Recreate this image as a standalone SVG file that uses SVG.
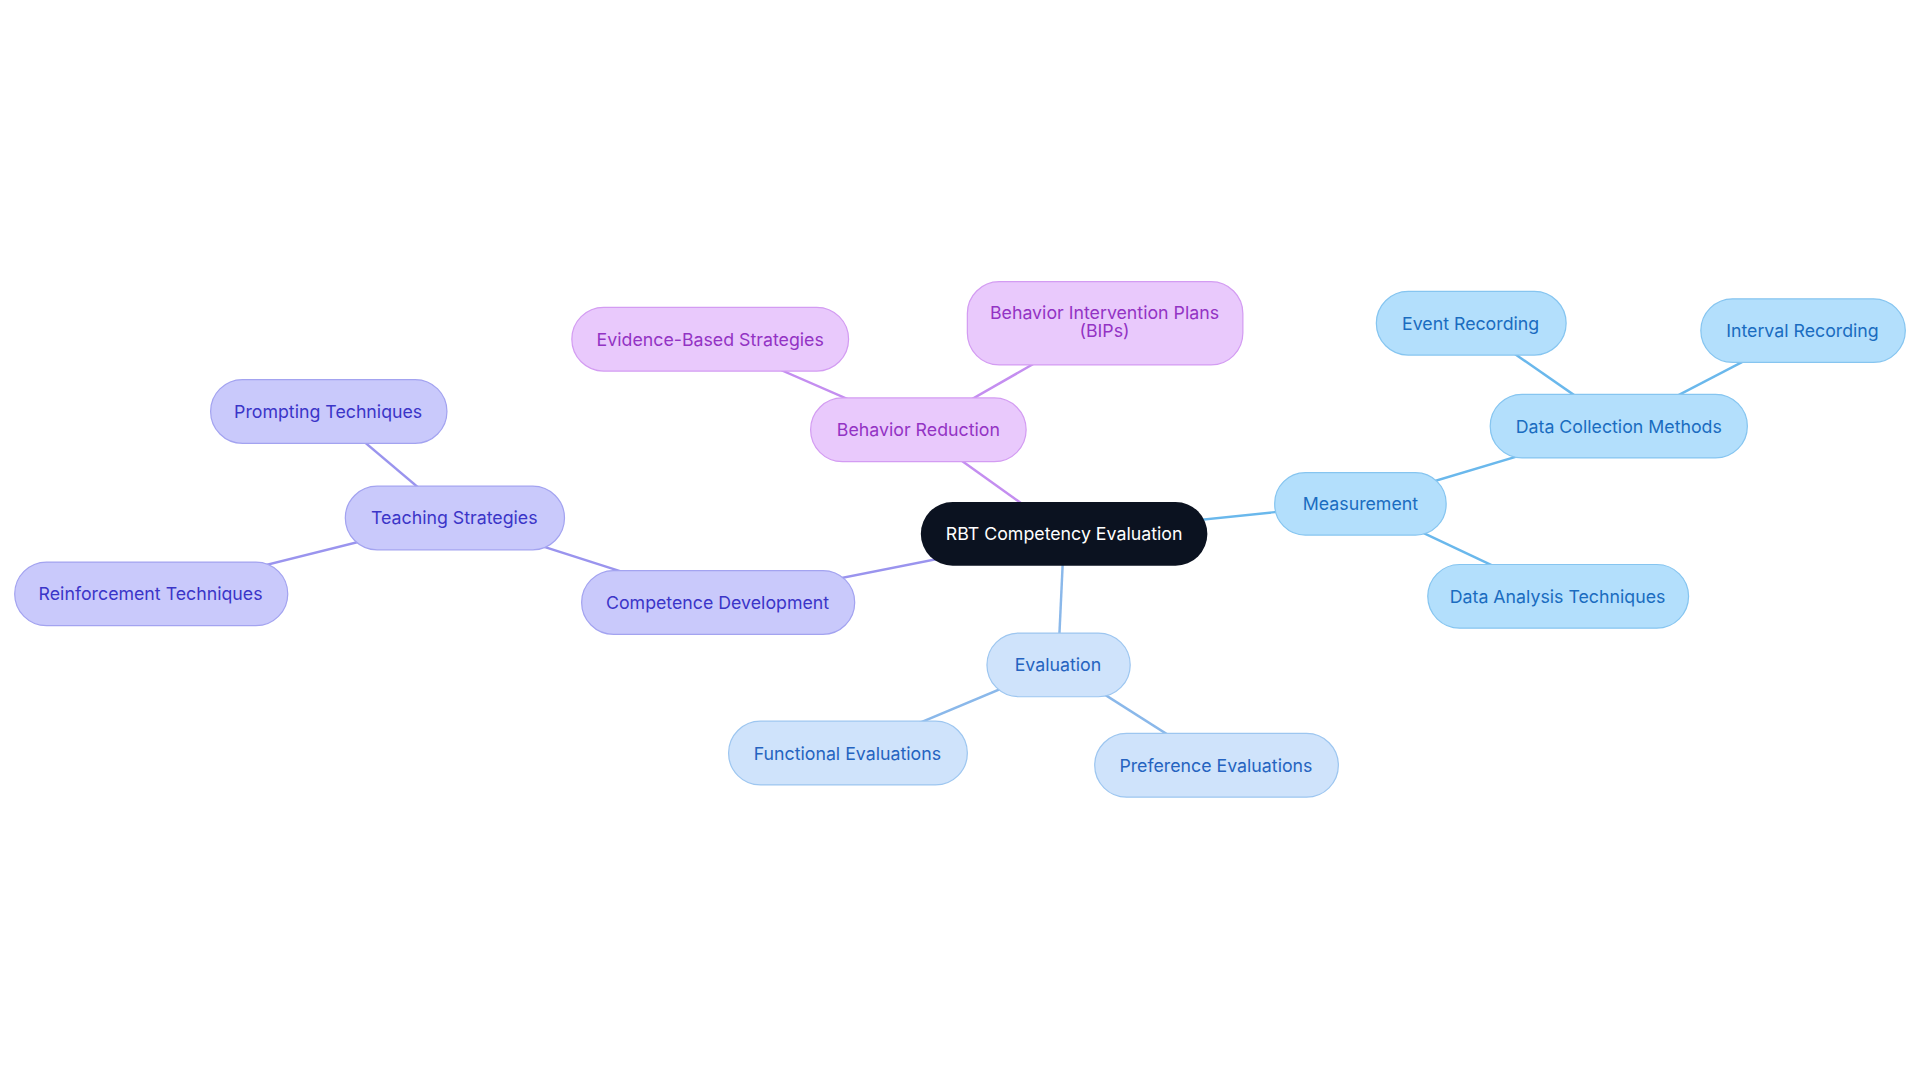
<svg xmlns="http://www.w3.org/2000/svg" width="1920" height="1083" viewBox="0 0 1920 1083">
<style>
text{font-family:Inter,"Noto Sans",sans-serif;font-size:14.5px;text-anchor:middle;dominant-baseline:central}
.b rect{fill:#b3dffc;stroke:#86c5f0}.b text{fill:#1a6cc0}
.e rect{fill:#cfe3fb;stroke:#9dc6f0}.e text{fill:#2563c0}
.c rect{fill:#c9c9fb;stroke:#a3a3f0}.c text{fill:#3b35c8}
.r rect{fill:#e9c9fc;stroke:#d39cf2}.r text{fill:#9333c4}
rect{stroke-width:1}
#edges line{stroke-width:2}
</style>
<rect width="1920" height="1083" fill="#fff"/>
<g transform="scale(1.2245)">
<g id="edges">
<line x1="869" y1="436" x2="1111" y2="411" stroke="#6ab8ec"/>
<line x1="1111" y1="411" x2="1322" y2="348" stroke="#6ab8ec"/>
<line x1="1322" y1="348" x2="1201" y2="264" stroke="#6ab8ec"/>
<line x1="1322" y1="348" x2="1472" y2="270" stroke="#6ab8ec"/>
<line x1="1111" y1="411" x2="1272" y2="487" stroke="#6ab8ec"/>
<line x1="869" y1="436" x2="864" y2="543" stroke="#8ab8ea"/>
<line x1="864" y1="543" x2="692" y2="615" stroke="#8ab8ea"/>
<line x1="864" y1="543" x2="993" y2="625" stroke="#8ab8ea"/>
<line x1="869" y1="436" x2="586" y2="492" stroke="#9a94ee"/>
<line x1="586" y1="492" x2="371" y2="423" stroke="#9a94ee"/>
<line x1="371" y1="423" x2="268" y2="336" stroke="#9a94ee"/>
<line x1="371" y1="423" x2="123" y2="485" stroke="#9a94ee"/>
<line x1="869" y1="436" x2="750" y2="351" stroke="#c48ef0"/>
<line x1="750" y1="351" x2="580" y2="277" stroke="#c48ef0"/>
<line x1="750" y1="351" x2="902" y2="264" stroke="#c48ef0"/>
</g>
<g id="root"><rect x="752" y="410" width="234" height="52" rx="26" fill="#0b1220"/><text x="869" y="436" fill="#fff">RBT Competency Evaluation</text></g>
<g id="measurement" class="b"><rect x="1041" y="386" width="140" height="51" rx="25"/><text x="1111" y="411">Measurement</text></g>
<g id="dcm" class="b"><rect x="1217" y="322" width="210" height="52" rx="26"/><text x="1322" y="348">Data Collection Methods</text></g>
<g id="event" class="b"><rect x="1124" y="238" width="155" height="52" rx="26"/><text x="1201" y="264">Event Recording</text></g>
<g id="interval" class="b"><rect x="1389" y="244" width="167" height="52" rx="26"/><text x="1472" y="270">Interval Recording</text></g>
<g id="dat" class="b"><rect x="1166" y="461" width="213" height="52" rx="26"/><text x="1272" y="487">Data Analysis Techniques</text></g>
<g id="evaluation" class="e"><rect x="806" y="517" width="117" height="52" rx="26"/><text x="864" y="543">Evaluation</text></g>
<g id="functional" class="e"><rect x="595" y="589" width="195" height="52" rx="26"/><text x="692" y="615">Functional Evaluations</text></g>
<g id="preference" class="e"><rect x="894" y="599" width="199" height="52" rx="26"/><text x="993" y="625">Preference Evaluations</text></g>
<g id="competence" class="c"><rect x="475" y="466" width="223" height="52" rx="26"/><text x="586" y="492">Competence Development</text></g>
<g id="teaching" class="c"><rect x="282" y="397" width="179" height="52" rx="26"/><text x="371" y="423">Teaching Strategies</text></g>
<g id="prompting" class="c"><rect x="172" y="310" width="193" height="52" rx="26"/><text x="268" y="336">Prompting Techniques</text></g>
<g id="reinforcement" class="c"><rect x="12" y="459" width="223" height="52" rx="26"/><text x="123" y="485">Reinforcement Techniques</text></g>
<g id="reduction" class="r"><rect x="662" y="325" width="176" height="52" rx="26"/><text x="750" y="351">Behavior Reduction</text></g>
<g id="ebs" class="r"><rect x="467" y="251" width="226" height="52" rx="26"/><text x="580" y="277">Evidence-Based Strategies</text></g>
<g id="bips" class="r"><rect x="790" y="230" width="225" height="68" rx="26"/><text x="902" y="255">Behavior Intervention Plans</text><text x="902" y="270">(BIPs)</text></g>
</g>
</svg>
